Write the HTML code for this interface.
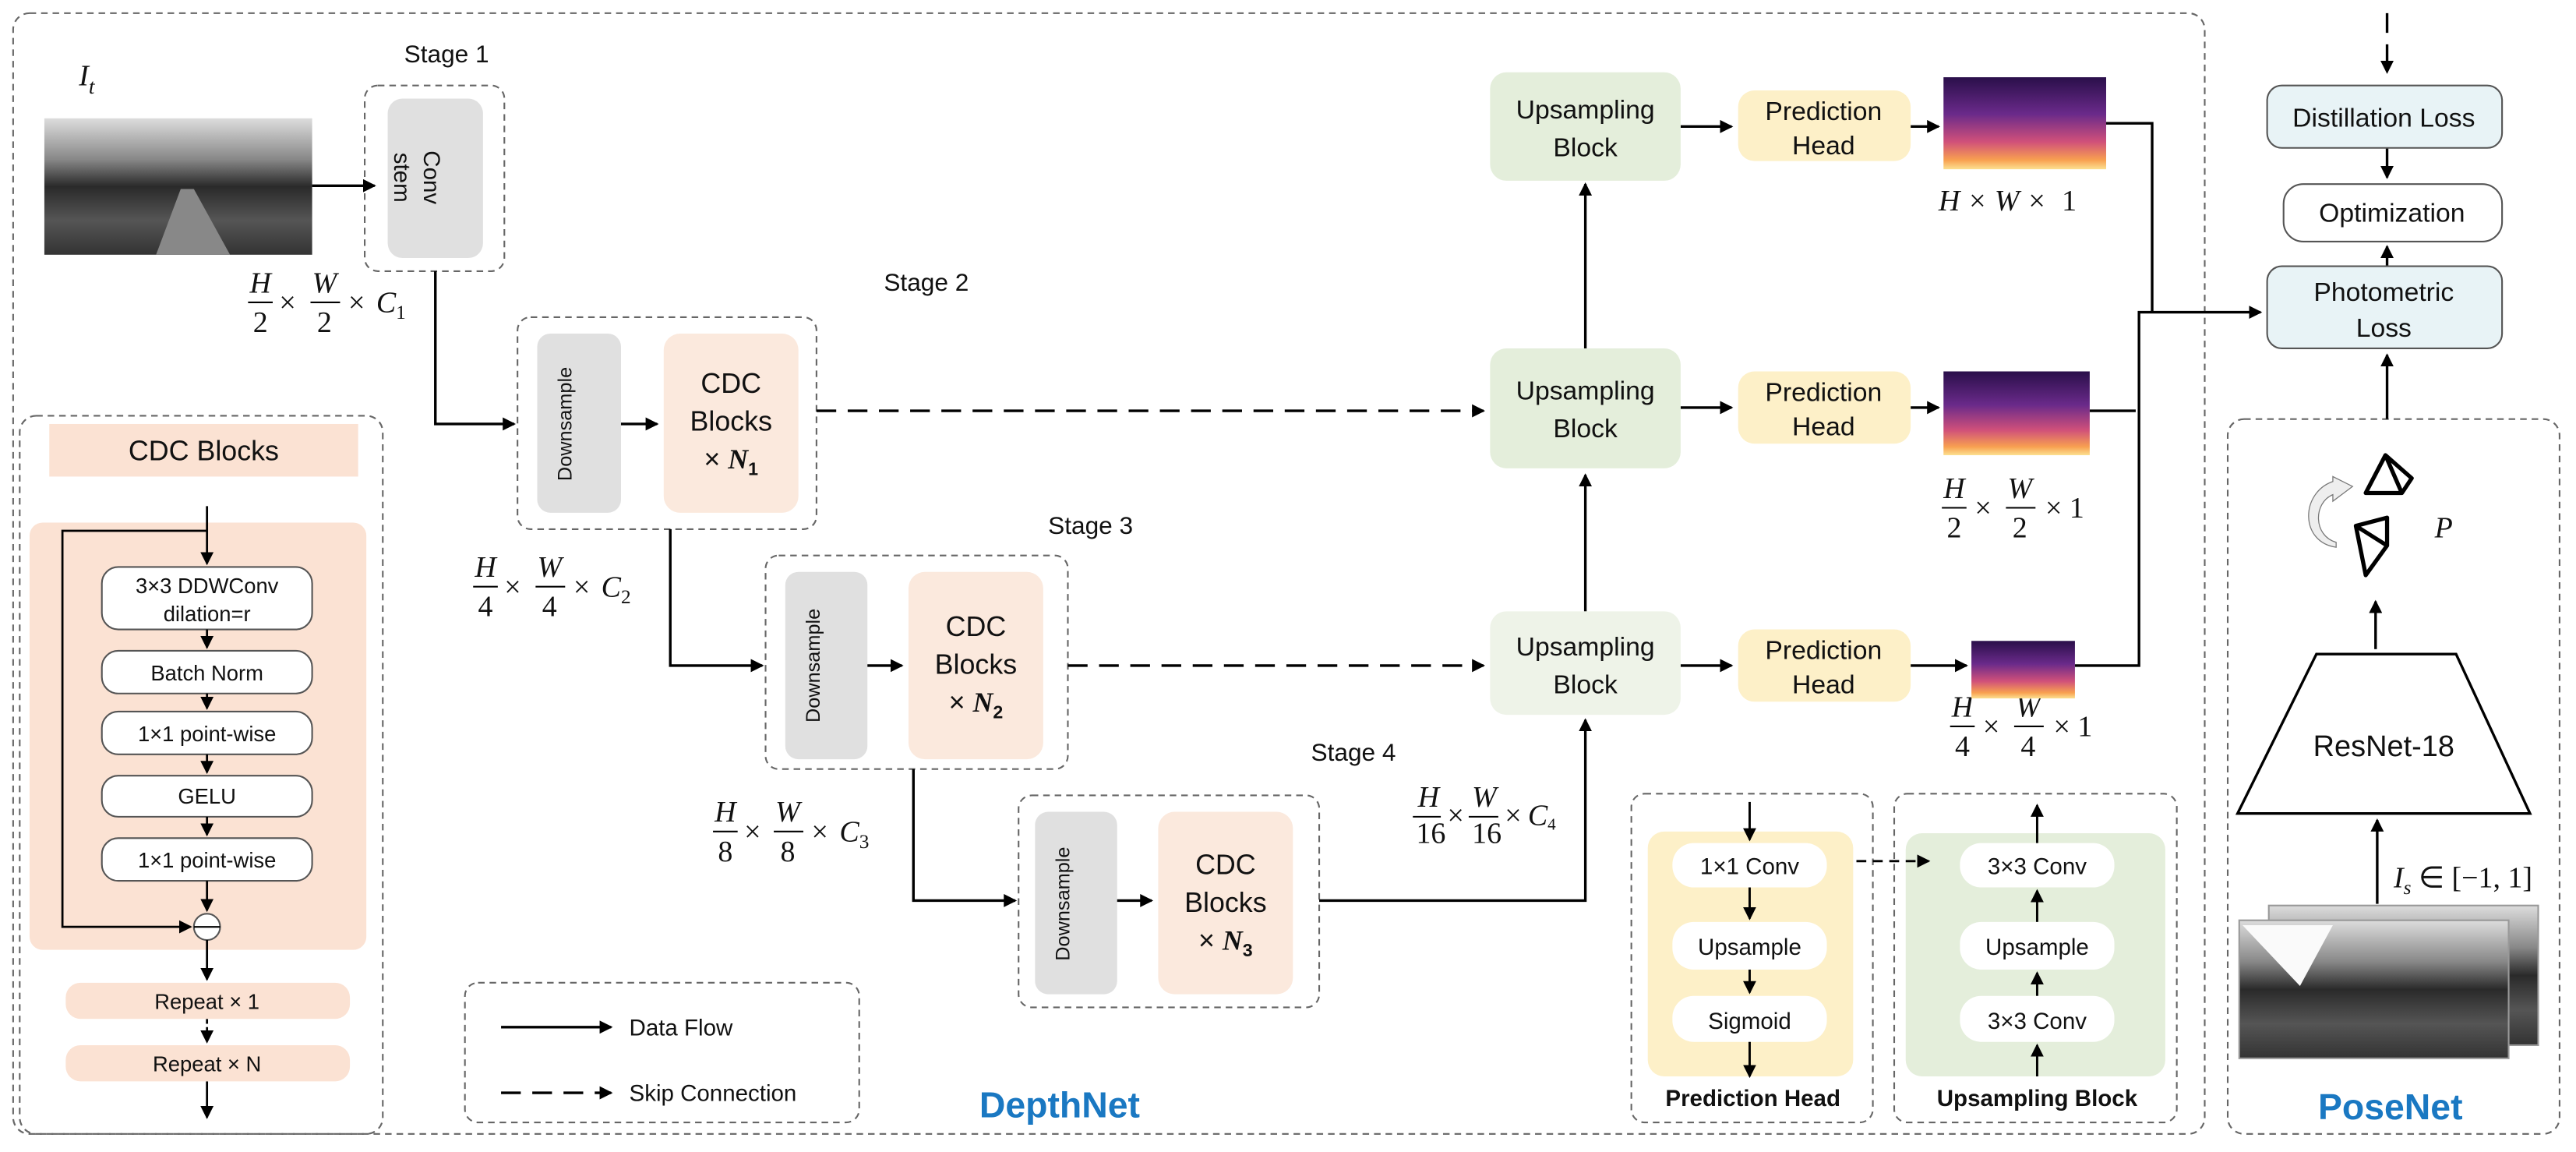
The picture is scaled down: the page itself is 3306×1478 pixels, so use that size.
<!DOCTYPE html>
<html><head><meta charset="utf-8"><style>
html,body{margin:0;padding:0;background:#fff;}
svg{display:block;}
text{font-family:"Liberation Sans",sans-serif;fill:#111;}
.m{font-family:"Liberation Serif",serif;font-style:italic;font-size:18px;}
.mr{font-family:"Liberation Serif",serif;font-size:18px;}
</style></head><body>
<svg width="3306" height="1478" viewBox="0 0 1568 701" preserveAspectRatio="none" xmlns="http://www.w3.org/2000/svg">
<defs>
<marker id="a" markerWidth="8" markerHeight="8" refX="7" refY="4" orient="auto" markerUnits="userSpaceOnUse"><path d="M0,0 L8,4 L0,8 z" fill="#000"/></marker>
<linearGradient id="road" x1="0" y1="0" x2="0" y2="1"><stop offset="0" stop-color="#ddd"/><stop offset="0.3" stop-color="#888"/><stop offset="0.5" stop-color="#2a2a2a"/><stop offset="0.75" stop-color="#555"/><stop offset="1" stop-color="#333"/></linearGradient>
<linearGradient id="dep" x1="0" y1="0" x2="0" y2="1"><stop offset="0" stop-color="#2a0f4a"/><stop offset="0.4" stop-color="#6a2a8a"/><stop offset="0.7" stop-color="#d0507a"/><stop offset="0.9" stop-color="#f8a050"/><stop offset="1" stop-color="#fce090"/></linearGradient>
</defs>
<g fill="none" stroke="#666" stroke-dasharray="4,3" stroke-width="1">
<rect x="8" y="8" width="1334" height="682" rx="10"/>
<rect x="1356" y="255" width="202" height="435" rx="10"/>
<rect x="222" y="52" width="85" height="113" rx="8"/>
<rect x="315" y="193" width="182" height="129" rx="8"/>
<rect x="466" y="338" width="184" height="130" rx="8"/>
<rect x="620" y="484" width="183" height="129" rx="8"/>
<rect x="12" y="253" width="221" height="437" rx="10"/>
<rect x="283" y="598" width="240" height="85" rx="8"/>
<rect x="993" y="483" width="147" height="200" rx="8"/>
<rect x="1153" y="483" width="172" height="200" rx="8"/>
</g>
<!-- Input image -->
<rect x="27" y="72" width="163" height="83" fill="url(#road)"/>
<path d="M95,155 L110,115 L118,115 L140,155z" fill="#888"/>
<text class="m" x="48" y="52" font-size="20">I<tspan font-size="13" dy="5">t</tspan></text>
<text x="246" y="38" font-size="15">Stage 1</text>
<text x="538" y="177" font-size="15">Stage 2</text>
<text x="638" y="325" font-size="15">Stage 3</text>
<text x="798" y="463" font-size="15">Stage 4</text>
<rect x="236" y="60" width="58" height="97" rx="9" fill="#e0e0e0"/>
<text transform="translate(258,108) rotate(90)" text-anchor="middle" font-size="14">Conv</text>
<text transform="translate(240,108) rotate(90)" text-anchor="middle" font-size="14">stem</text>
<!-- stage 2 -->
<rect x="327" y="203" width="51" height="109" rx="8" fill="#e0e0e0"/>
<text transform="translate(348,258) rotate(-90)" text-anchor="middle" font-size="12">Downsample</text>
<rect x="404" y="203" width="82" height="109" rx="10" fill="#fbe9dd"/>
<text x="445" y="239" text-anchor="middle" font-size="17">CDC</text>
<text x="445" y="262" text-anchor="middle" font-size="17">Blocks</text>
<text x="445" y="285" text-anchor="middle" font-size="17">× <tspan font-weight="bold" font-style="italic" font-family="Liberation Serif">N</tspan><tspan font-size="11" dy="4" font-weight="bold">1</tspan></text>
<!-- stage 3 -->
<rect x="478" y="348" width="50" height="114" rx="8" fill="#e0e0e0"/>
<text transform="translate(499,405) rotate(-90)" text-anchor="middle" font-size="12">Downsample</text>
<rect x="553" y="348" width="82" height="114" rx="10" fill="#fbe9dd"/>
<text x="594" y="387" text-anchor="middle" font-size="17">CDC</text>
<text x="594" y="410" text-anchor="middle" font-size="17">Blocks</text>
<text x="594" y="433" text-anchor="middle" font-size="17">× <tspan font-weight="bold" font-style="italic" font-family="Liberation Serif">N</tspan><tspan font-size="11" dy="4" font-weight="bold">2</tspan></text>
<!-- stage 4 -->
<rect x="630" y="494" width="50" height="111" rx="8" fill="#e0e0e0"/>
<text transform="translate(651,550) rotate(-90)" text-anchor="middle" font-size="12">Downsample</text>
<rect x="705" y="494" width="82" height="111" rx="10" fill="#fbe9dd"/>
<text x="746" y="532" text-anchor="middle" font-size="17">CDC</text>
<text x="746" y="555" text-anchor="middle" font-size="17">Blocks</text>
<text x="746" y="578" text-anchor="middle" font-size="17">× <tspan font-weight="bold" font-style="italic" font-family="Liberation Serif">N</tspan><tspan font-size="11" dy="4" font-weight="bold">3</tspan></text>
<!-- connectors -->
<g stroke="#000" stroke-width="1.6" fill="none">
<path d="M190,113 L228,113" marker-end="url(#a)"/>
<path d="M265,165 L265,258 L313,258" marker-end="url(#a)"/>
<path d="M378,258 L400,258" marker-end="url(#a)"/>
<path d="M408,322 L408,405 L464,405" marker-end="url(#a)"/>
<path d="M528,405 L549,405" marker-end="url(#a)"/>
<path d="M556,468 L556,548 L618,548" marker-end="url(#a)"/>
<path d="M680,548 L701,548" marker-end="url(#a)"/>
<path d="M803,548 L965,548 L965,438" marker-end="url(#a)"/>
<path d="M965,372 L965,289" marker-end="url(#a)"/>
<path d="M965,212 L965,112" marker-end="url(#a)"/>
<path d="M1023,77 L1054,77" marker-end="url(#a)"/>
<path d="M1023,248 L1054,248" marker-end="url(#a)"/>
<path d="M1023,405 L1054,405" marker-end="url(#a)"/>
<path d="M1163,77 L1180,77" marker-end="url(#a)"/>
<path d="M1163,248 L1180,248" marker-end="url(#a)"/>
<path d="M1163,405 L1197,405" marker-end="url(#a)"/>
<path d="M1282,75 L1310,75 L1310,190"/>
<path d="M1272,250 L1300,250"/>
<path d="M1263,405 L1302,405 L1302,190 L1376,190" marker-end="url(#a)"/>
<path d="M1453,90 L1453,108" marker-end="url(#a)"/>
<path d="M1453,162 L1453,150" marker-end="url(#a)"/>
<path d="M1453,255 L1453,216" marker-end="url(#a)"/>
<path d="M1446,395 L1446,366" marker-end="url(#a)"/>
<path d="M1447,550 L1447,499" marker-end="url(#a)"/>
<path d="M305,625 L372,625" marker-end="url(#a)"/>
</g>
<g stroke="#000" stroke-width="1.6" fill="none" stroke-dasharray="12,7">
<path d="M497,250 L903,250" marker-end="url(#a)"/>
<path d="M650,405 L903,405" marker-end="url(#a)"/>
<path d="M1453,8 L1453,44" marker-end="url(#a)"/>
<path d="M305,665 L372,665" marker-end="url(#a)"/>
</g>
<text x="383" y="630" font-size="14">Data Flow</text>
<text x="383" y="670" font-size="14">Skip Connection</text>
<!-- fractions -->
<g>
<text class="m" x="152" y="178">H</text><line x1="151" y1="184" x2="166" y2="184" stroke="#000"/><text class="mr" x="154" y="202">2</text>
<text class="mr" x="170" y="190">×</text>
<text class="m" x="190" y="178">W</text><line x1="189" y1="184" x2="207" y2="184" stroke="#000"/><text class="mr" x="193" y="202">2</text>
<text class="mr" x="212" y="190">×</text><text class="m" x="229" y="190">C<tspan font-size="12" dy="4" font-style="normal">1</tspan></text>

<text class="m" x="289" y="351">H</text><line x1="288" y1="357" x2="303" y2="357" stroke="#000"/><text class="mr" x="291" y="375">4</text>
<text class="mr" x="307" y="363">×</text>
<text class="m" x="327" y="351">W</text><line x1="326" y1="357" x2="344" y2="357" stroke="#000"/><text class="mr" x="330" y="375">4</text>
<text class="mr" x="349" y="363">×</text><text class="m" x="366" y="363">C<tspan font-size="12" dy="4" font-style="normal">2</tspan></text>

<text class="m" x="435" y="500">H</text><line x1="434" y1="506" x2="449" y2="506" stroke="#000"/><text class="mr" x="437" y="524">8</text>
<text class="mr" x="453" y="512">×</text>
<text class="m" x="472" y="500">W</text><line x1="471" y1="506" x2="489" y2="506" stroke="#000"/><text class="mr" x="475" y="524">8</text>
<text class="mr" x="494" y="512">×</text><text class="m" x="511" y="512">C<tspan font-size="12" dy="4" font-style="normal">3</tspan></text>

<text class="m" x="863" y="491" font-size="14">H</text><line x1="860" y1="497" x2="877" y2="497" stroke="#000"/><text class="mr" x="862" y="513" font-size="14">16</text>
<text class="mr" x="881" y="502" font-size="14">×</text>
<text class="m" x="896" y="491" font-size="14">W</text><line x1="894" y1="497" x2="912" y2="497" stroke="#000"/><text class="mr" x="896" y="513" font-size="14">16</text>
<text class="mr" x="916" y="502" font-size="14">×</text><text class="m" x="930" y="502" font-size="14">C<tspan font-size="10" dy="3" font-style="normal">4</tspan></text>

<text class="m" x="1180" y="128">H × W ×</text><text class="mr" x="1255" y="128">1</text>

<text class="m" x="1183" y="303">H</text><line x1="1182" y1="309" x2="1197" y2="309" stroke="#000"/><text class="mr" x="1185" y="327">2</text>
<text class="mr" x="1202" y="315">×</text>
<text class="m" x="1222" y="303">W</text><line x1="1221" y1="309" x2="1239" y2="309" stroke="#000"/><text class="mr" x="1225" y="327">2</text>
<text class="mr" x="1245" y="315">× 1</text>

<text class="m" x="1188" y="436">H</text><line x1="1187" y1="442" x2="1202" y2="442" stroke="#000"/><text class="mr" x="1190" y="460">4</text>
<text class="mr" x="1207" y="448">×</text>
<text class="m" x="1227" y="436">W</text><line x1="1226" y1="442" x2="1244" y2="442" stroke="#000"/><text class="mr" x="1230" y="460">4</text>
<text class="mr" x="1250" y="448">× 1</text>
</g>
<!-- Upsampling blocks -->
<rect x="907" y="44" width="116" height="66" rx="10" fill="#e4eedb"/>
<text x="965" y="72" text-anchor="middle" font-size="16">Upsampling</text><text x="965" y="95" text-anchor="middle" font-size="16">Block</text>
<rect x="907" y="212" width="116" height="73" rx="10" fill="#e4eedb"/>
<text x="965" y="243" text-anchor="middle" font-size="16">Upsampling</text><text x="965" y="266" text-anchor="middle" font-size="16">Block</text>
<rect x="907" y="372" width="116" height="63" rx="10" fill="#eef3e8"/>
<text x="965" y="399" text-anchor="middle" font-size="16">Upsampling</text><text x="965" y="422" text-anchor="middle" font-size="16">Block</text>
<rect x="1058" y="55" width="105" height="43" rx="10" fill="#fdf0c8"/>
<text x="1110" y="73" text-anchor="middle" font-size="16">Prediction</text><text x="1110" y="94" text-anchor="middle" font-size="16">Head</text>
<rect x="1058" y="226" width="105" height="44" rx="10" fill="#fdf0c8"/>
<text x="1110" y="244" text-anchor="middle" font-size="16">Prediction</text><text x="1110" y="265" text-anchor="middle" font-size="16">Head</text>
<rect x="1058" y="383" width="105" height="44" rx="10" fill="#fdf0c8"/>
<text x="1110" y="401" text-anchor="middle" font-size="16">Prediction</text><text x="1110" y="422" text-anchor="middle" font-size="16">Head</text>
<rect x="1183" y="47" width="99" height="56" fill="url(#dep)"/>
<rect x="1183" y="226" width="89" height="51" fill="url(#dep)"/>
<rect x="1200" y="390" width="63" height="35" fill="url(#dep)"/>
<!-- Right side losses -->
<rect x="1380" y="52" width="143" height="38" rx="9" fill="#e8f3f6" stroke="#555"/>
<text x="1451" y="77" text-anchor="middle" font-size="16">Distillation Loss</text>
<rect x="1390" y="112" width="133" height="35" rx="12" fill="#fff" stroke="#555"/>
<text x="1456" y="135" text-anchor="middle" font-size="16">Optimization</text>
<rect x="1380" y="162" width="143" height="50" rx="9" fill="#e8f3f6" stroke="#555"/>
<text x="1451" y="183" text-anchor="middle" font-size="16">Photometric</text><text x="1451" y="205" text-anchor="middle" font-size="16">Loss</text>
<!-- PoseNet -->
<path d="M1410,398 L1495,398 L1540,495 L1362,495 z" fill="#fff" stroke="#000" stroke-width="1.6"/>
<text x="1451" y="460" text-anchor="middle" font-size="18">ResNet-18</text>
<g fill="none" stroke="#000" stroke-width="2.5" stroke-linejoin="round">
<path d="M1440,300 L1452,277 L1468,291 L1462,300 z M1452,277 L1462,300"/>
<path d="M1434,320 L1453,315 L1453,332 L1440,350 z M1434,320 L1453,332"/>
</g>
<path d="M1422,333 C1400,330 1400,300 1420,293 L1420,290 L1432,296 L1420,305 L1420,301 C1408,306 1408,326 1422,330 z" fill="#eee" stroke="#777" stroke-width="0.6"/>
<text class="m" x="1482" y="327" font-size="16">P</text>
<text class="m" x="1457" y="540" font-size="18">I<tspan font-size="12" dy="4">s</tspan><tspan class="mr" dy="-4" font-style="normal"> ∈ [−1, 1]</tspan></text>
<rect x="1381" y="551" width="164" height="85" fill="url(#road)" stroke="#999"/>
<rect x="1363" y="560" width="164" height="84" fill="url(#road)" stroke="#999"/>
<path d="M1365,563 L1420,563 L1400,600 Z" fill="#fafafa"/>
<text x="1455" y="681" text-anchor="middle" font-size="22" font-weight="bold" style="fill:#1a78c2">PoseNet</text>
<text x="645" y="680" text-anchor="middle" font-size="22" font-weight="bold" style="fill:#1a78c2">DepthNet</text>
<!-- CDC detail -->
<rect x="30" y="258" width="188" height="32" fill="#fbe2d3"/>
<text x="124" y="280" text-anchor="middle" font-size="17">CDC Blocks</text>
<rect x="18" y="318" width="205" height="260" rx="8" fill="#fbe2d3"/>
<g fill="#fff" stroke="#555">
<rect x="62" y="345" width="128" height="38" rx="10"/>
<rect x="62" y="396" width="128" height="26" rx="10"/>
<rect x="62" y="433" width="128" height="26" rx="10"/>
<rect x="62" y="472" width="128" height="25" rx="10"/>
<rect x="62" y="510" width="128" height="26" rx="10"/>
<circle cx="126" cy="564" r="8"/>
</g>
<line x1="118" y1="564" x2="134" y2="564" stroke="#000"/>
<g font-size="13" text-anchor="middle">
<text x="126" y="361">3×3 DDWConv</text><text x="126" y="378">dilation=r</text>
<text x="126" y="414">Batch Norm</text>
<text x="126" y="451">1×1 point-wise</text>
<text x="126" y="489">GELU</text>
<text x="126" y="528">1×1 point-wise</text>
</g>
<g stroke="#000" stroke-width="1.3" fill="none">
<path d="M126,308 L126,343" marker-end="url(#a)"/>
<path d="M126,383 L126,394" marker-end="url(#a)"/>
<path d="M126,422 L126,431" marker-end="url(#a)"/>
<path d="M126,459 L126,470" marker-end="url(#a)"/>
<path d="M126,497 L126,508" marker-end="url(#a)"/>
<path d="M126,536 L126,554" marker-end="url(#a)"/>
<path d="M126,323 L38,323 L38,564 L116,564" marker-end="url(#a)"/>
<path d="M126,572 L126,596" marker-end="url(#a)"/>
<path d="M126,620 L126,634" marker-end="url(#a)" stroke-dasharray="3,2"/>
<path d="M126,658 L126,680" marker-end="url(#a)"/>
</g>
<rect x="40" y="598" width="173" height="22" rx="9" fill="#fbe2d3"/>
<text x="126" y="614" text-anchor="middle" font-size="13">Repeat × 1</text>
<rect x="40" y="636" width="173" height="22" rx="9" fill="#fbe2d3"/>
<text x="126" y="652" text-anchor="middle" font-size="13">Repeat × N</text>
<!-- Prediction head legend -->
<rect x="1003" y="506" width="125" height="149" rx="10" fill="#fdf0c8"/>
<rect x="1018" y="513" width="94" height="27" rx="13" fill="#fff"/>
<rect x="1018" y="561" width="94" height="29" rx="13" fill="#fff"/>
<rect x="1018" y="606" width="94" height="28" rx="13" fill="#fff"/>
<text x="1065" y="532" text-anchor="middle" font-size="14">1×1 Conv</text>
<text x="1065" y="581" text-anchor="middle" font-size="14">Upsample</text>
<text x="1065" y="626" text-anchor="middle" font-size="14">Sigmoid</text>
<text x="1067" y="673" text-anchor="middle" font-size="14" font-weight="bold">Prediction Head</text>
<rect x="1160" y="507" width="158" height="148" rx="10" fill="#e4eedb"/>
<rect x="1193" y="513" width="94" height="27" rx="13" fill="#fff"/>
<rect x="1193" y="561" width="94" height="29" rx="13" fill="#fff"/>
<rect x="1193" y="606" width="94" height="28" rx="13" fill="#fff"/>
<text x="1240" y="532" text-anchor="middle" font-size="14">3×3 Conv</text>
<text x="1240" y="581" text-anchor="middle" font-size="14">Upsample</text>
<text x="1240" y="626" text-anchor="middle" font-size="14">3×3 Conv</text>
<text x="1240" y="673" text-anchor="middle" font-size="14" font-weight="bold">Upsampling Block</text>
<g stroke="#000" stroke-width="1.4" fill="none">
<path d="M1065,488 L1065,511" marker-end="url(#a)"/>
<path d="M1065,540 L1065,559" marker-end="url(#a)"/>
<path d="M1065,590 L1065,604" marker-end="url(#a)"/>
<path d="M1065,634 L1065,655" marker-end="url(#a)"/>
<path d="M1240,513 L1240,490" marker-end="url(#a)"/>
<path d="M1240,561 L1240,542" marker-end="url(#a)"/>
<path d="M1240,606 L1240,592" marker-end="url(#a)"/>
<path d="M1240,655 L1240,636" marker-end="url(#a)"/>
<path d="M1130,524 L1174,524" marker-end="url(#a)" stroke-dasharray="6,4"/>
</g>
</svg>
</body></html>
